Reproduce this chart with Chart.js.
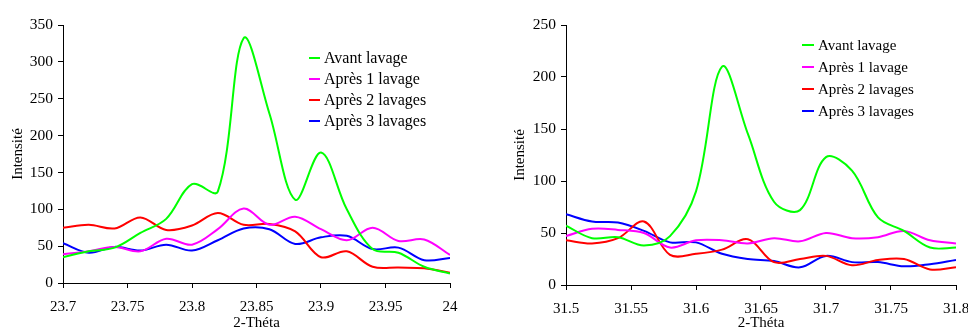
<!DOCTYPE html>
<html>
<head>
<meta charset="utf-8">
<script src="https://cdn.jsdelivr.net/npm/chart.js@4.4.1/dist/chart.umd.min.js"></script>
<style>
  body { margin: 0; background: #fff; }
  #wrap { position: relative; width: 968px; height: 331px; }
  canvas { position: absolute; top: 0; }
  #left { left: 0; }
  #right { left: 484px; }
</style>
</head>
<body>
<div id="wrap">
  <canvas id="left" width="484" height="331"></canvas>
  <canvas id="right" width="484" height="331"></canvas>
</div>
<script>
const seriesLabels = ['Avant lavage', 'Après 1 lavage', 'Après 2 lavages', 'Après 3 lavages']
const seriesColors = ['#00ff00', '#ff00ff', '#ff0000', '#0000ff']

// left chart, around 23.85
const leftTheta = [23.70, 23.72, 23.74, 23.76, 23.78, 23.80, 23.82, 23.84, 23.86, 23.88, 23.90, 23.92, 23.94, 23.96, 23.98, 24.00]
const leftAvant = [35, 43, 48, 68, 87, 134, 124, 332, 230, 113, 177, 100, 46, 41, 22, 13]
const leftApres1 = [39, 43, 49, 43, 60, 52, 73, 101, 79, 90, 73, 58, 75, 57, 59, 38]
const leftApres2 = [75, 79, 74, 89, 72, 78, 95, 79, 80, 70, 35, 43, 22, 21, 20, 14]
const leftApres3 = [54, 41, 49, 44, 52, 44, 58, 74, 73, 53, 62, 64, 46, 48, 31, 34]
const leftXTicks = [23.7, 23.75, 23.8, 23.85, 23.9, 23.95, 24]
const leftYTicks = [0, 50, 100, 150, 200, 250, 300, 350]

// right chart, around 31.65
const rightTheta = [31.50, 31.52, 31.54, 31.56, 31.58, 31.60, 31.62, 31.64, 31.66, 31.68, 31.70, 31.72, 31.74, 31.76, 31.78, 31.80]
const rightAvant = [57, 45, 46, 38, 47, 90, 210, 145, 80, 72, 123, 110, 65, 52, 36, 36]
const rightApres1 = [47, 54, 53, 50, 36, 43, 43, 40, 45, 42, 50, 45, 46, 52, 43, 40]
const rightApres2 = [43, 40, 45, 61, 29, 30, 34, 44, 22, 25, 28, 19, 24, 25, 15, 17]
const rightApres3 = [68, 61, 60, 52, 41, 41, 30, 25, 23, 17, 28, 22, 22, 18, 20, 24]
const rightXTicks = [31.5, 31.55, 31.6, 31.65, 31.7, 31.75, 31.8]
const rightYTicks = [0, 50, 100, 150, 200, 250]

const serif = 'Liberation Serif, Times New Roman, serif'

// legend drawn inside the plot, like the Excel original
const insideLegend = {
  id: 'insideLegend',
  afterDraw (chart, args, opts) {
    const ctx = chart.ctx
    ctx.save()
    ctx.font = `${opts.size}px ${serif}`
    ctx.textBaseline = 'middle'
    ctx.textAlign = 'left'
    chart.data.datasets.forEach((ds, i) => {
      const y = opts.y + i * opts.step
      ctx.strokeStyle = ds.borderColor
      ctx.lineWidth = 2
      ctx.beginPath()
      ctx.moveTo(opts.x, y)
      ctx.lineTo(opts.x + opts.line, y)
      ctx.stroke()
      ctx.fillStyle = '#000'
      ctx.fillText(ds.label, opts.x + opts.line + 4, y + 1)
    })
    ctx.restore()
  }
}

function makeChart (canvas, theta, series, xTicks, yTicks, cfg) {
  const datasets = series.map((values, i) => ({
    label: seriesLabels[i],
    data: values.map((v, j) => ({ x: theta[j], y: v })),
    borderColor: seriesColors[i],
    borderWidth: 2,
    pointRadius: 0,
    tension: 0.35,
    fill: false
  }))

  return new Chart(canvas, {
    type: 'line',
    data: { datasets },
    plugins: [insideLegend],
    options: {
      responsive: false,
      animation: false,
      layout: { padding: cfg.padding },
      plugins: {
        legend: { display: false },
        tooltip: { enabled: false },
        insideLegend: cfg.legend
      },
      scales: {
        x: {
          type: 'linear',
          min: xTicks[0],
          max: xTicks[xTicks.length - 1],
          afterBuildTicks: (scale) => { scale.ticks = xTicks.map(v => ({ value: v })) },
          afterFit: (scale) => {
            scale.height = cfg.xHeight
            scale.paddingLeft = 0
            scale.paddingRight = 0
          },
          grid: { drawOnChartArea: false, drawTicks: true, tickLength: 5, color: '#000' },
          border: { display: true, color: '#000', width: 1 },
          ticks: {
            color: '#000',
            padding: 10,
            maxRotation: 0,
            autoSkip: false,
            font: { family: serif, size: 15 },
            callback: (v) => String(v)
          },
          title: {
            display: true,
            text: '2-Théta',
            color: '#000',
            padding: { top: 0, bottom: 0 },
            font: { family: serif, size: 15, lineHeight: 1 }
          }
        },
        y: {
          min: 0,
          max: yTicks[yTicks.length - 1],
          afterBuildTicks: (scale) => { scale.ticks = yTicks.map(v => ({ value: v })) },
          afterFit: (scale) => {
            scale.width = cfg.yWidth
            scale.paddingTop = 0
            scale.paddingBottom = 0
          },
          grid: { drawOnChartArea: false, drawTicks: true, tickLength: 5, color: '#000' },
          border: { display: true, color: '#000', width: 1 },
          ticks: {
            color: '#000',
            padding: 5,
            font: { family: serif, size: 15.5 },
            callback: (v) => String(v)
          },
          title: {
            display: true,
            text: 'Intensité',
            color: '#000',
            padding: { top: cfg.yTitlePad, bottom: 0 },
            font: { family: serif, size: 15, lineHeight: 1 }
          }
        }
      }
    }
  })
}

makeChart(document.getElementById('left'), leftTheta,
  [leftAvant, leftApres1, leftApres2, leftApres3], leftXTicks, leftYTicks, {
    padding: { top: 25, right: 34, left: 0, bottom: 0 },
    xHeight: 48,
    yWidth: 63,
    yTitlePad: 10.5,
    legend: { x: 309, y: 58, step: 21, line: 11, size: 16 }
  })

makeChart(document.getElementById('right'), rightTheta,
  [rightAvant, rightApres1, rightApres2, rightApres3], rightXTicks, rightYTicks, {
    padding: { top: 25, right: 12, left: 0, bottom: 0 },
    xHeight: 46,
    yWidth: 82,
    yTitlePad: 29,
    legend: { x: 318, y: 45, step: 22, line: 12, size: 15 }
  })
</script>
</body>
</html>
